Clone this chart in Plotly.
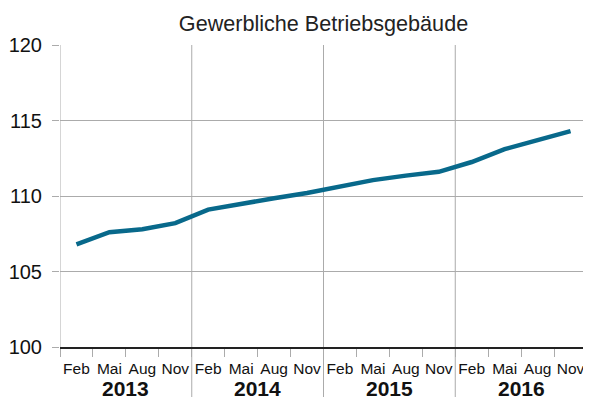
import plotly.graph_objects as go

years = ["2013", "2014", "2015", "2016"]
months = ["Feb", "Mai", "Aug", "Nov"]
values = [106.8, 107.6, 107.8, 108.2,
          109.1, 109.5, 109.85, 110.2,
          110.65, 111.05, 111.35, 111.6,
          112.25, 113.1, 113.7, 114.3]
title_text = "Gewerbliche Betriebsgebäude"

n = len(values)
xs = [i + 0.5 for i in range(n)]
ticktext = [months[i % 4] for i in range(n)]

W, H = 583, 395
L, R, T = 52, 4, 37
plot_h = 302
B = H - T - plot_h

fig = go.Figure()
fig.add_trace(go.Scatter(x=xs, y=values, mode="lines",
                         line=dict(color="#08698b", width=4.5), hoverinfo="skip"))

grid = "#ababab"
shapes = []
for k in range(len(years)):
    bx = k * 4
    shapes.append(dict(type="line", xref="x", yref="paper", x0=bx, x1=bx,
                       y0=(0 if k == 0 else -50 / plot_h), y1=1,
                       line=dict(color=grid, width=1), layer="below"))

annotations = []
for k, yr in enumerate(years):
    annotations.append(dict(x=k * 4 + 2, y=-41.5 / plot_h, xref="x", yref="paper",
                            text="<b>" + yr + "</b>", showarrow=False,
                            yanchor="middle",
                            font=dict(family="Liberation Sans, Arial", size=21, color="#111")))

fig.update_layout(
    width=W, height=H,
    margin=dict(l=L, r=R, t=T, b=B, autoexpand=False),
    paper_bgcolor="white", plot_bgcolor="white",
    showlegend=False,
    title=dict(text=title_text, x=(L + (W - R)) / 2 / W, xanchor="center",
               y=(H - 15) / H, yanchor="middle", yref="container",
               font=dict(family="Liberation Sans, Arial", size=21.6, color="#222")),
    shapes=shapes,
    annotations=annotations,
    font=dict(family="Liberation Sans, Arial", color="#111"),
)
fig.update_xaxes(range=[0, n], tickvals=xs, ticktext=ticktext, ticks="",
                 showgrid=False, zeroline=False, automargin=False,
                 showline=True, linecolor="#222", linewidth=2,
                 tickfont=dict(size=15.5, color="#111"), ticklabelstandoff=6,
                 minor=dict(tick0=0, dtick=1, ticks="outside", ticklen=8,
                            tickcolor=grid, tickwidth=1, showgrid=False))
fig.update_yaxes(range=[100, 120], dtick=5, tick0=100, ticks="outside", ticklen=7,
                 tickcolor=grid, showgrid=True, gridcolor=grid, gridwidth=1,
                 zeroline=False, showline=False, automargin=False,
                 tickfont=dict(size=20, color="#111"), ticklabelstandoff=6)

fig.write_html("out.html")
